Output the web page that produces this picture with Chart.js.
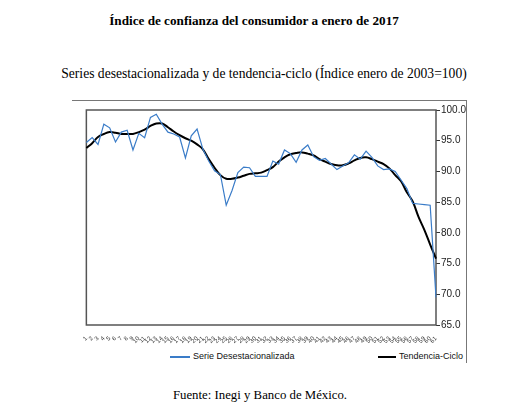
<!DOCTYPE html>
<html>
<head>
<meta charset="utf-8">
<script src="https://cdn.jsdelivr.net/npm/chart.js@4/dist/chart.umd.min.js"></script>
<style>
  body { margin: 0; width: 508px; height: 420px; background: #fff; position: relative; overflow: hidden; }
  .txt { position: absolute; left: 0; width: 508px; text-align: center; font-family: "Liberation Serif", "DejaVu Serif", serif; color: #000; }
  #title { top: 13px; font-size: 13.2px; font-weight: bold; }
  #subtitle { top: 66px; left: 10px; font-size: 13.6px; }
  #source { top: 388px; left: 6px; font-size: 12.8px; }
  #frameTop { position: absolute; left: 72px; top: 100px; width: 394px; height: 1px; background: #777; }
  #frameRight { position: absolute; left: 466px; top: 100px; width: 1px; height: 263px; background: #777; }
  #chartBox { position: absolute; left: 82px; top: 103px; width: 388px; height: 242px; }
  .legend { position: absolute; top: 351px; font-family: "Liberation Sans", Arial, sans-serif; font-size: 9px; color: #111; }
  .legend span { display: inline-block; vertical-align: middle; margin-right: 3px; }
</style>
</head>
<body>
<div id="title" class="txt">Índice de confianza del consumidor a enero de 2017</div>
<div id="subtitle" class="txt">Series desestacionalizada y de tendencia-ciclo (Índice enero de 2003=100)</div>
<div id="frameTop"></div>
<div id="frameRight"></div>
<div id="chartBox"><canvas id="mainChart"></canvas></div>
<div class="legend" style="left:170px"><span style="width:20px;height:2px;background:#3a7cc8"></span>Serie Desestacionalizada</div>
<div class="legend" style="left:378px"><span style="width:18px;height:2px;background:#000"></span>Tendencia-Ciclo</div>
<div id="source" class="txt">Fuente: Inegi y Banco de México.</div>

<script>
// Monthly observations, Jan 2012 - Jan 2017 (labelled 1..61 like the original)
const periodLabels = Array.from({ length: 61 }, (_, i) => String(i + 1));

// Seasonally adjusted series
const serieDesestacionalizada = [
    94.7, 95.5, 94.4, 97.7, 97.1, 94.8, 96.4, 96.7, 93.5, 96.2,
    95.5, 98.8, 99.3, 97.7, 96.4, 96.1, 95.6, 92.2, 95.8, 96.9,
    93.6, 91.7, 90.1, 89.5, 84.5, 86.9, 89.8, 90.7, 90.6, 89.2,
    89.2, 89.2, 91.7, 91.2, 93.5, 92.9, 91.5, 93.5, 94.3, 92.4,
    91.8, 92.1, 91.2, 90.3, 90.9, 91.4, 92.7, 92.0, 93.3, 92.3,
    90.9, 90.3, 90.4, 90.0, 88.6, 87.2, 84.8, 84.7, 84.6, 84.5, 69.5
];

// Trend-cycle series
const tendenciaCiclo = [
    93.8, 94.6, 95.6, 96.1, 96.4, 96.3, 96.1, 96.1, 96.1, 96.4,
    96.8, 97.4, 97.8, 97.8, 97.2, 96.5, 95.9, 95.4, 95.0, 94.4,
    93.6, 92.0, 90.6, 89.4, 88.8, 88.8, 89.0, 89.3, 89.6, 89.7,
    89.8, 90.2, 90.7, 91.6, 92.3, 92.8, 93.0, 93.1, 92.9, 92.6,
    92.0, 91.6, 91.2, 91.0, 91.0, 91.3, 91.8, 92.2, 92.3, 92.0,
    91.6, 91.2, 90.5, 89.4, 88.4, 86.6, 85.1, 82.6, 80.5, 78.1, 75.8
];

// Y axis range and step
const yMin = 65;
const yMax = 100;
const yStep = 5;

// Draw a box around the plot area
const plotFrame = {
    id: 'plotFrame',
    beforeDatasetsDraw(chart) {
        const { ctx, chartArea: a } = chart;
        ctx.save();
        ctx.strokeStyle = '#555';
        ctx.lineWidth = 1.5;
        ctx.strokeRect(a.left, a.top, a.right - a.left, a.bottom - a.top);
        ctx.restore();
    }
};

document.addEventListener('DOMContentLoaded', function() {
    const ctx = document.getElementById('mainChart').getContext('2d');
    window.mainChart = new Chart(ctx, {
        type: 'line',
        data: {
            labels: periodLabels,
            datasets: [{
                label: 'Serie Desestacionalizada',
                data: serieDesestacionalizada,
                borderColor: '#3a7cc8',
                borderWidth: 1.2,
                pointRadius: 0,
                tension: 0,
                fill: false
            }, {
                label: 'Tendencia-Ciclo',
                data: tendenciaCiclo,
                borderColor: '#000',
                borderWidth: 2,
                pointRadius: 0,
                tension: 0.4,
                fill: false
            }]
        },
        options: {
            responsive: true,
            maintainAspectRatio: false,
            animation: false,
            layout: { padding: { top: 5, left: 0, right: 0, bottom: 0 } },
            plugins: {
                legend: { display: false },
                tooltip: { enabled: false }
            },
            scales: {
                x: {
                    offset: false,
                    grid: { display: false },
                    border: { display: false },
                    ticks: {
                        autoSkip: false,
                        minRotation: 45,
                        maxRotation: 45,
                        padding: 2,
                        color: '#333',
                        font: { family: 'Liberation Sans', size: 6 }
                    },
                    afterFit(scale) { scale.height = 20; }
                },
                y: {
                    position: 'right',
                    min: yMin,
                    max: yMax,
                    grid: {
                        drawOnChartArea: false,
                        drawTicks: true,
                        tickLength: 4,
                        color: '#333'
                    },
                    border: { display: false },
                    ticks: {
                        stepSize: yStep,
                        padding: 1,
                        color: '#222',
                        font: { family: 'Liberation Sans', size: 10 },
                        callback: v => v.toFixed(1)
                    },
                    afterFit(scale) { scale.width = 34; }
                }
            }
        },
        plugins: [plotFrame]
    });
});
</script>
</body>
</html>
